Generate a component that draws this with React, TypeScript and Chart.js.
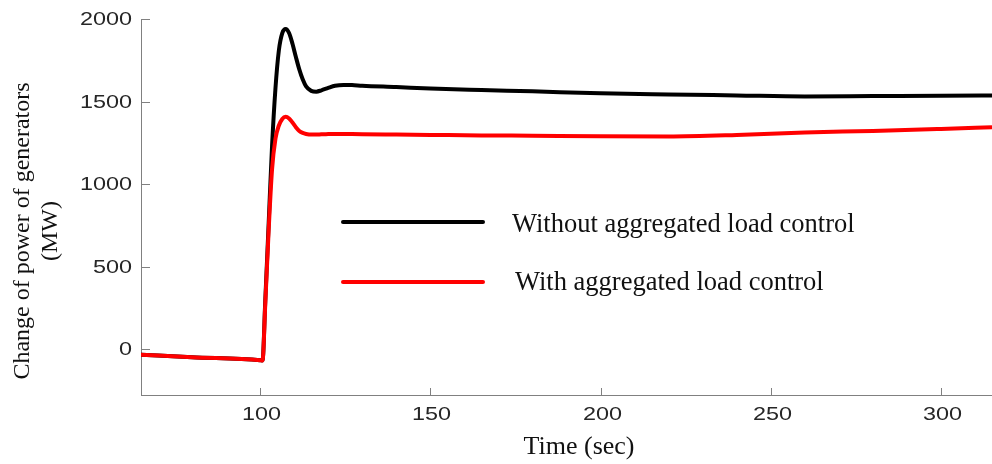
import React, { useEffect, useRef } from "react";
import { Chart, registerables } from "chart.js";

Chart.register(...registerables);

// Time (sec)
const times = [65, 80, 100, 100.7, 101.5, 102.5, 103.5, 104.5, 105.5, 106.5, 107.5, 108.5, 109.5, 110.5, 111.5, 112.5, 113.5, 115, 116.5, 118, 120, 122, 124.5, 127, 130, 140, 150, 165, 180, 200, 220, 240, 260, 280, 300, 315];
// Without aggregated load control (MW)
const withoutControl = [-33, -48, -66, -68, 290, 760, 1230, 1580, 1810, 1915, 1940, 1915, 1850, 1770, 1695, 1635, 1592, 1565, 1560, 1568, 1583, 1596, 1601, 1600, 1596, 1588, 1579, 1570, 1562, 1550, 1543, 1537, 1531, 1533, 1535, 1537];
// With aggregated load control (MW)
const withControl = [-33, -48, -66, -68, 270, 720, 1090, 1275, 1355, 1395, 1408, 1398, 1373, 1345, 1322, 1310, 1304, 1300, 1300, 1302, 1303, 1304, 1304, 1303, 1302, 1300, 1298, 1295, 1293, 1290, 1289, 1298, 1313, 1322, 1334, 1344];

const xTickValues = [100, 150, 200, 250, 300];
const yTickValues = [0, 500, 1000, 1500, 2000];
const seriesLabels = ["Without aggregated load control", "With aggregated load control"];
const xTitle = "Time (sec)";
const yTitleLines = ["Change of power of generators", "(MW)"];

const AXIS_COLOR = "#808080";
const TICK_FONT = '18px "Liberation Sans", Arial, sans-serif';
const SERIF = '"Liberation Serif", "Times New Roman", serif';

const overlay = {
  id: "overlay",
  afterDraw(chart: any) {
    const ctx = chart.ctx as CanvasRenderingContext2D;
    const { left, bottom } = chart.chartArea;
    const xs = chart.scales.x;
    const ys = chart.scales.y;
    ctx.save();
    ctx.strokeStyle = AXIS_COLOR;
    ctx.lineWidth = 1;
    ctx.fillStyle = "#262626";
    ctx.font = TICK_FONT;
    // y ticks
    yTickValues.forEach((v) => {
      const py = Math.round(ys.getPixelForValue(v)) + 0.5;
      ctx.beginPath();
      ctx.moveTo(left, py);
      ctx.lineTo(left + 9, py);
      ctx.stroke();
      ctx.save();
      ctx.translate(132, py + 1);
      ctx.scale(1.3, 1);
      ctx.textAlign = "right";
      ctx.textBaseline = "middle";
      ctx.fillText(String(v), 0, 0);
      ctx.restore();
    });
    // x ticks
    xTickValues.forEach((v) => {
      const px = Math.round(xs.getPixelForValue(v)) + 0.5;
      ctx.beginPath();
      ctx.moveTo(px, bottom);
      ctx.lineTo(px, bottom - 7);
      ctx.stroke();
      ctx.save();
      ctx.translate(px + 1, 415);
      ctx.scale(1.3, 1);
      ctx.textAlign = "center";
      ctx.textBaseline = "middle";
      ctx.fillText(String(v), 0, 0);
      ctx.restore();
    });
    // axis titles
    ctx.fillStyle = "#111";
    ctx.font = "26px " + SERIF;
    ctx.textAlign = "center";
    ctx.textBaseline = "alphabetic";
    ctx.fillText(xTitle, 579, 454);
    ctx.save();
    ctx.translate(23, 231);
    ctx.rotate(-Math.PI / 2);
    ctx.textBaseline = "middle";
    ctx.font = "24px " + SERIF;
    ctx.fillText(yTitleLines[0], 0, 0);
    ctx.fillText(yTitleLines[1], 0, 28);
    ctx.restore();
    // legend
    const legendItems = [
      { color: "#000000", y: 222, textX: 512, base: 231.5, label: seriesLabels[0] },
      { color: "#ff0000", y: 282, textX: 515, base: 290, label: seriesLabels[1] },
    ];
    legendItems.forEach((it) => {
      ctx.strokeStyle = it.color;
      ctx.lineWidth = 4;
      ctx.lineCap = "round";
      ctx.beginPath();
      ctx.moveTo(343, it.y);
      ctx.lineTo(483, it.y);
      ctx.stroke();
      ctx.fillStyle = "#111";
      ctx.font = "26.5px " + SERIF;
      ctx.textAlign = "left";
      ctx.textBaseline = "alphabetic";
      ctx.fillText(it.label, it.textX, it.base);
    });
    ctx.restore();
  },
};

export default function App() {
  const canvasRef = useRef<HTMLCanvasElement | null>(null);

  useEffect(() => {
    const canvas = canvasRef.current;
    if (!canvas) return;
    const chart = new Chart(canvas, {
      type: "line",
      data: {
        datasets: [
          {
            label: seriesLabels[0],
            data: times.map((t, i) => ({ x: t, y: withoutControl[i] })),
            borderColor: "#000000",
            borderWidth: 4,
            pointRadius: 0,
            cubicInterpolationMode: "monotone",
            fill: false,
            order: 1,
          },
          {
            label: seriesLabels[1],
            data: times.map((t, i) => ({ x: t, y: withControl[i] })),
            borderColor: "#ff0000",
            borderWidth: 4,
            pointRadius: 0,
            cubicInterpolationMode: "monotone",
            fill: false,
            order: 0,
          },
        ],
      },
      options: {
        animation: false,
        responsive: false,
        maintainAspectRatio: false,
        layout: { padding: { left: 0, right: 0, top: 19, bottom: 0 } },
        plugins: { legend: { display: false }, tooltip: { enabled: false } },
        scales: {
          x: {
            type: "linear",
            min: 65,
            max: 315,
            grid: { display: false },
            border: { display: true, color: AXIS_COLOR, width: 1 },
            ticks: { display: false },
            afterFit: (s: any) => {
              s.height = 69;
            },
          },
          y: {
            type: "linear",
            min: -277,
            max: 2000,
            grid: { display: false },
            border: { display: true, color: AXIS_COLOR, width: 1 },
            ticks: { display: false },
            afterFit: (s: any) => {
              s.width = 141;
            },
          },
        },
      },
      plugins: [overlay],
    });
    return () => chart.destroy();
  }, []);

  return (
    <div style={{ position: "absolute", left: 0, top: 0, width: 992, height: 464, background: "#fff" }}>
      <canvas ref={canvasRef} width={992} height={464} style={{ display: "block" }} />
    </div>
  );
}
